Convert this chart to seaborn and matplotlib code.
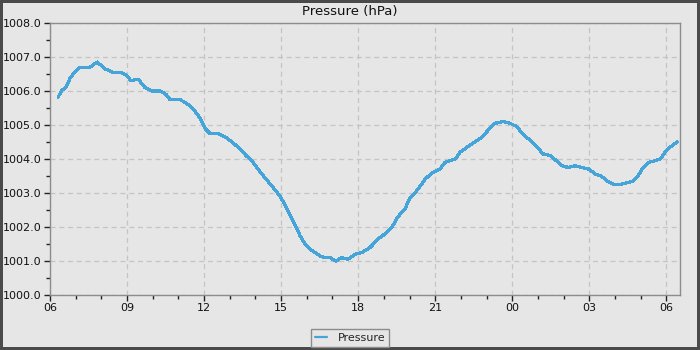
import matplotlib
matplotlib.use("Agg")
import matplotlib.pyplot as plt
import matplotlib.dates as mdates
import seaborn as sns
import pandas as pd
import numpy as np

# Barometric pressure readings: minutes after the 06:00 start, and hPa
start_time = "2024-01-01 06:00"
minutes = [19, 28, 37, 47, 58, 70, 93, 110, 129, 147, 164, 180, 189, 206, 222,
           238, 257, 271, 280, 304, 323, 339, 351, 362, 374, 393, 409, 425, 444,
           458, 472, 486, 502, 519, 538, 549, 561, 573, 584, 596, 608, 619, 631,
           643, 654, 668, 682, 696, 713, 729, 748, 767, 783, 799, 813, 830, 841,
           853, 865, 876, 893, 911, 923, 947, 958, 975, 993, 1010, 1024, 1040,
           1059, 1075, 1091, 1103, 1122, 1138, 1152, 1169, 1183, 1197, 1211,
           1227, 1243, 1260, 1274, 1288, 1302, 1318, 1332, 1348, 1362, 1374,
           1386, 1398, 1414, 1426, 1437, 1449, 1465]
pressure = [1005.82, 1006.03, 1006.1, 1006.38, 1006.56, 1006.7, 1006.7, 1006.85,
            1006.65, 1006.55, 1006.55, 1006.45, 1006.3, 1006.35, 1006.1, 1006.0,
            1006.0, 1005.9, 1005.75, 1005.75, 1005.6, 1005.4, 1005.2, 1004.9,
            1004.75, 1004.75, 1004.65, 1004.5, 1004.3, 1004.1, 1003.95, 1003.7,
            1003.45, 1003.2, 1002.9, 1002.65, 1002.35, 1002.05, 1001.75, 1001.5,
            1001.35, 1001.25, 1001.15, 1001.1, 1001.1, 1001.0, 1001.1, 1001.05,
            1001.2, 1001.25, 1001.4, 1001.65, 1001.8, 1002.0, 1002.3, 1002.55,
            1002.85, 1003.0, 1003.2, 1003.4, 1003.6, 1003.7, 1003.9, 1004.0,
            1004.2, 1004.35, 1004.5, 1004.65, 1004.85, 1005.05, 1005.1, 1005.05,
            1004.95, 1004.75, 1004.55, 1004.35, 1004.15, 1004.1, 1003.95, 1003.8,
            1003.75, 1003.8, 1003.75, 1003.7, 1003.55, 1003.5, 1003.35, 1003.25,
            1003.25, 1003.3, 1003.35, 1003.5, 1003.75, 1003.9, 1003.95, 1004.0,
            1004.2, 1004.35, 1004.5]

t0 = pd.Timestamp(start_time)
df = pd.DataFrame({
    "time": t0 + pd.to_timedelta(minutes, unit="m"),
    "Pressure": pressure,
})

bg = "#e6e6e6"
sns.set_theme(style="ticks")
plt.rcParams["font.family"] = ["DejaVu Sans"]

fig = plt.figure(figsize=(7, 3.5), dpi=100, facecolor=bg,
                 edgecolor="#4a4a4a", linewidth=4)
ax = fig.add_axes([50 / 700, 1 - 295 / 350, 630 / 700, 272 / 350])
ax.set_facecolor(bg)

sns.lineplot(data=df, x="time", y="Pressure", ax=ax, color="#45a5d8",
             linewidth=1.6, label="Pressure", legend=False)
for ln in ax.get_lines():
    ln.set_antialiased(False)

ax.set_xlim(t0, t0 + pd.Timedelta(minutes=1472))
ax.set_ylim(1000, 1008)
ax.xaxis.set_major_locator(mdates.HourLocator(byhour=range(0, 24, 3)))
ax.xaxis.set_minor_locator(mdates.HourLocator())
ax.xaxis.set_major_formatter(mdates.DateFormatter("%H"))
ax.set_yticks(np.arange(1000, 1008.1, 1.0))
ax.set_yticks(np.arange(1000.5, 1008, 1.0), minor=True)
ax.yaxis.set_major_formatter(matplotlib.ticker.FormatStrFormatter("%.1f"))

ax.grid(True, which="major", color="#c4c4c4", linestyle=(0, (4, 3)), linewidth=0.9)
for s in ax.spines.values():
    s.set_color("#8c8c8c")
    s.set_linewidth(1)
ax.tick_params(which="major", direction="out", length=4, width=1, color="#222222",
               labelsize=8, pad=2, labelcolor="#111111")
ax.tick_params(which="minor", direction="out", length=3, width=1, color="#222222")
ax.set_xlabel("")
ax.set_ylabel("")
fig.text(0.5, 1 - 11 / 350, "Pressure (hPa)", ha="center", va="center",
         fontsize=9.5, color="#111111")

leg = fig.legend(handles=ax.get_lines()[:1], labels=["Pressure"], loc="center",
                 bbox_to_anchor=(350 / 700, 1 - 338 / 350), fontsize=8,
                 frameon=True, fancybox=False, facecolor=bg, edgecolor="#8c8c8c",
                 handlelength=1.1, borderpad=0.35, handletextpad=1.0)
leg.get_frame().set_linewidth(1)
leg.get_frame().set_alpha(1)

fig.savefig("out.png", dpi=100, facecolor=bg, edgecolor="#4a4a4a")
